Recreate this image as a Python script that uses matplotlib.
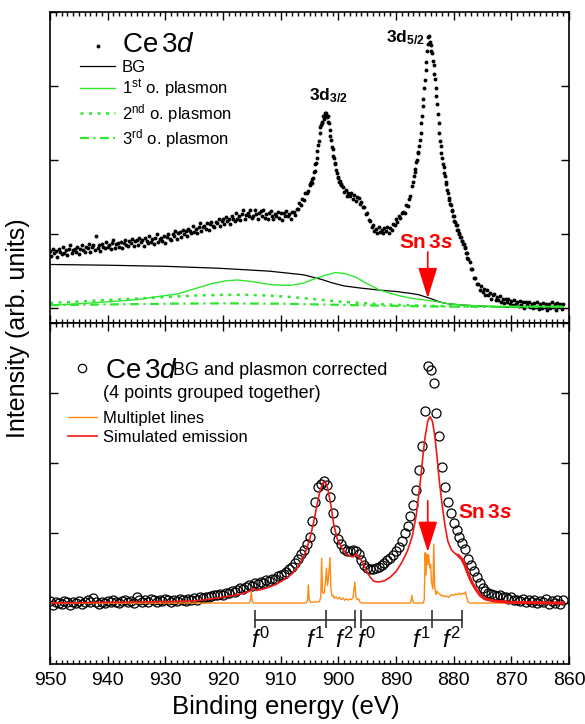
import numpy as np
import matplotlib
matplotlib.use('Agg')
import matplotlib.pyplot as plt
from matplotlib.lines import Line2D
from matplotlib.ticker import MultipleLocator, NullLocator
from matplotlib.transforms import offset_copy

plt.rcParams['font.family'] = ['Liberation Sans', 'DejaVu Sans']
plt.rcParams['mathtext.fontset'] = 'custom'
plt.rcParams['mathtext.rm'] = 'Liberation Sans'
plt.rcParams['mathtext.it'] = 'Liberation Sans:italic'
plt.rcParams['mathtext.bf'] = 'Liberation Sans:bold'
plt.rcParams['mathtext.bfit'] = 'Liberation Sans:bold:italic'

# ---- top panel: raw Ce 3d spectrum, in segments ----
# 950 -> 905.25 eV, 0.25 eV step
ce3d_a = [0.77, 0.70, 0.80, 0.74, 0.77, 0.69, 0.80, 0.76, 0.73, 0.82,
          0.75, 0.78, 0.72, 0.80, 0.85, 0.74, 0.78, 0.80, 0.76, 0.83,
          0.73, 0.80, 0.85, 0.78, 0.76, 0.83, 0.81, 0.87, 0.76, 0.83,
          0.85, 0.78, 0.97, 0.81, 0.85, 0.77, 0.87, 0.83, 0.81, 0.90,
          0.82, 0.85, 0.80, 0.88, 0.92, 0.81, 0.86, 0.88, 0.83, 0.90,
          0.81, 0.88, 0.92, 0.85, 0.84, 0.91, 0.88, 0.94, 0.84, 0.91,
          0.92, 0.85, 0.95, 0.89, 0.92, 0.84, 0.95, 0.91, 0.88, 0.97,
          0.90, 0.93, 0.87, 0.95, 1.00, 0.89, 0.93, 0.95, 0.91, 0.98,
          0.88,
          0.96, 1.00, 0.94, 0.92, 1.00, 0.97, 1.04, 0.94, 1.01, 1.03,
          0.96, 1.06, 1.00, 1.04, 0.97, 1.07, 1.04, 1.01, 1.11, 1.03,
          1.07, 1.02, 1.10, 1.15, 1.04, 1.09, 1.11, 1.07, 1.15, 1.05,
          1.13, 1.17, 1.11, 1.09, 1.17, 1.15, 1.21, 1.11, 1.18, 1.20,
          1.13, 1.23, 1.18, 1.21, 1.14, 1.24, 1.21, 1.18, 1.28, 1.21,
          1.24, 1.19, 1.27, 1.32, 1.21, 1.26, 1.29, 1.24, 1.32, 1.22,
          1.24, 1.32, 1.27, 1.21, 1.29, 1.31, 1.25, 1.33, 1.22, 1.27,
          1.20, 1.28, 1.31, 1.24, 1.21, 1.27, 1.25, 1.30, 1.22, 1.29,
          1.19, 1.28, 1.24, 1.31, 1.24, 1.27, 1.21, 1.30,
          1.30, 1.26, 1.34, 1.34, 1.42, 1.39, 1.48, 1.46, 1.55, 1.56, 1.58]
# 905.0 -> 899.5 eV, 0.125 eV step
ce3d_b = [1.68, 1.66, 1.71, 1.69, 1.75, 1.76, 1.84, 1.85, 1.94, 1.96,
          2.03, 2.12, 2.20, 2.26, 2.36, 2.44, 2.47, 2.52, 2.50, 2.59,
          2.56, 2.63, 2.60, 2.64, 2.58, 2.59, 2.52, 2.50, 2.41, 2.33,
          2.27, 2.18, 2.15, 2.06, 2.03, 1.96, 1.94, 1.86, 1.83, 1.77,
          1.76, 1.71, 1.72, 1.66, 1.67]
# 899.25 -> 887.0 eV, 0.25 eV step
ce3d_c = [1.64, 1.57, 1.59, 1.52, 1.56, 1.52, 1.56, 1.48, 1.53, 1.45,
          1.50, 1.49, 1.41, 1.44, 1.36, 1.37, 1.27, 1.29, 1.19, 1.18,
          1.10, 1.12, 1.04, 1.07, 1.02, 1.09, 1.03, 1.06, 1.01, 1.08,
          1.04, 1.09, 1.02, 1.08, 1.06, 1.14, 1.12, 1.20, 1.17, 1.24,
          1.22, 1.29, 1.30, 1.29, 1.39, 1.38, 1.47, 1.51, 1.65, 1.70]
# 886.875 -> 877.5 eV, 0.125 eV step
ce3d_d = [1.79, 1.84, 1.88, 1.97, 2.00, 2.09, 2.11, 2.19,
          2.27, 2.36, 2.50, 2.59, 2.73, 2.83, 2.97, 3.08,
          3.22, 3.32, 3.47, 3.57, 3.66, 3.68, 3.60, 3.55,
          3.47, 3.45, 3.34, 3.28, 3.16, 3.09, 2.97, 2.87,
          2.76, 2.62, 2.50, 2.37, 2.26, 2.19, 2.09, 2.03,
          1.95, 1.91, 1.82, 1.78, 1.70, 1.67, 1.59, 1.56,
          1.49, 1.46, 1.40, 1.39, 1.33, 1.31, 1.25, 1.24,
          1.18, 1.17, 1.12, 1.12, 1.06, 1.06, 1.01, 1.00,
          0.96, 0.96, 0.91, 0.91, 0.86, 0.87, 0.82, 0.81,
          0.75, 0.74, 0.68, 0.66]
# 877.25 -> 861.0 eV, 0.25 eV step
ce3d_e = [0.63, 0.53, 0.53, 0.41, 0.41, 0.32,
          0.33, 0.25, 0.30, 0.22, 0.26, 0.18, 0.24, 0.18, 0.21, 0.13,
          0.18, 0.19, 0.11, 0.15, 0.11, 0.16, 0.09, 0.13, 0.07, 0.13,
          0.08, 0.13, 0.06, 0.10, 0.04, 0.11, 0.05, 0.08, 0.03, 0.10,
          0.04, 0.08, 0.00, 0.08, 0.04, 0.09, 0.02, 0.06, 0.00, 0.07,
          0.02, 0.08, -0.01, 0.06, 0.00, 0.07, 0.02, 0.06, -0.02, 0.05,
          0.00, 0.08, 0.01, 0.06, -0.02, 0.07, 0.02, 0.06, -0.01, 0.05]
ce3d_segments = [(950.0, 905.25, ce3d_a), (905.0, 899.5, ce3d_b),
                 (899.25, 887.0, ce3d_c), (886.875, 877.5, ce3d_d),
                 (877.25, 861.0, ce3d_e)]

bg_e = [950, 940, 930, 921, 912, 906, 903, 901, 899, 896, 893, 890, 887.5,
        886, 885, 884, 883, 882, 881, 879, 876, 870, 861]
bg_i = [0.59, 0.58, 0.565, 0.54, 0.50, 0.45, 0.39, 0.34, 0.30, 0.27, 0.245,
        0.225, 0.20, 0.18, 0.155, 0.13, 0.10, 0.075, 0.06, 0.045, 0.03, 0.01, 0.0]
pl1_e = [950, 945, 940, 935, 931, 928, 925, 922, 919.5, 917.5, 915, 912, 910,
         908, 906, 904, 902, 900.5, 899, 897, 895, 893, 891, 889, 887, 885,
         883, 881, 878, 872, 861]
pl1_i = [0.04, 0.06, 0.085, 0.115, 0.16, 0.19, 0.26, 0.33, 0.37, 0.38, 0.36,
         0.32, 0.31, 0.31, 0.34, 0.40, 0.45, 0.48, 0.47, 0.42, 0.33, 0.25,
         0.20, 0.16, 0.13, 0.11, 0.09, 0.06, 0.04, 0.02, 0.02]
pl2_e = [950, 945, 940, 935, 930, 925, 920, 916, 912, 908, 904, 900, 896,
         892, 888, 884, 875, 861]
pl2_i = [0.07, 0.09, 0.11, 0.13, 0.15, 0.17, 0.18, 0.18, 0.17, 0.15, 0.12,
         0.09, 0.07, 0.05, 0.04, 0.03, 0.02, 0.02]
pl3_e = [950, 940, 930, 920, 910, 900, 890, 880, 861]
pl3_i = [0.04, 0.05, 0.06, 0.065, 0.06, 0.045, 0.03, 0.02, 0.02]

# ---- bottom panel: corrected spectrum, 950 -> 861 eV, 0.5 eV step ----
corr_i = [0.03, -0.03, 0.02, 0.00, -0.02, 0.03, 0.01, -0.03, 0.02, 0.00,
          0.03, -0.01, 0.02, 0.04, 0.01, 0.07, 0.02, -0.01, 0.02, 0.00,
          0.03, 0.01, 0.04, 0.02, 0.00, 0.03, 0.05, 0.01, 0.03, 0.00,
          0.09, 0.04, 0.01, 0.05, 0.02, 0.06, 0.04, 0.02, 0.05, 0.03,
          0.06, 0.04, 0.02, 0.05, 0.03, 0.06, 0.04, 0.03, 0.06, 0.04,
          0.07,
          0.05, 0.08, 0.07, 0.09, 0.08, 0.10, 0.12, 0.11, 0.13, 0.12,
          0.15, 0.14, 0.17, 0.16, 0.19, 0.21, 0.20, 0.23, 0.26, 0.25,
          0.28, 0.27, 0.30, 0.29, 0.33, 0.31, 0.35, 0.34, 0.38, 0.40,
          0.42, 0.45, 0.48, 0.52, 0.57, 0.63, 0.70, 0.76, 0.84, 0.95,
          1.17, 1.45, 1.66, 1.70, 1.74, 1.68, 1.52, 1.29, 1.05, 0.92,
          0.84, 0.77, 0.74, 0.75, 0.76, 0.74, 0.70, 0.62, 0.55, 0.50,
          0.48, 0.49, 0.50, 0.52, 0.54, 0.57, 0.61, 0.64, 0.69, 0.75,
          0.80, 0.88, 1.00, 1.10, 1.24, 1.40, 1.62, 1.90, 2.25, 2.75,
          3.39, 3.33, 3.14, 2.72, 2.38, 1.95, 1.66, 1.45, 1.28, 1.15,
          1.05, 0.95, 0.86, 0.77, 0.63, 0.55, 0.46, 0.37, 0.28, 0.22,
          0.17, 0.15, 0.13, 0.12, 0.10, 0.11, 0.08, 0.09, 0.06, 0.08,
          0.04, 0.05, 0.03, 0.06, 0.01, 0.04, 0.02, 0.05, 0.00, 0.03,
          0.01, 0.06, -0.02, 0.03, 0.00, 0.05, -0.01, 0.04]

sim_e = [950, 940, 930, 925, 921, 918, 916, 915.2, 914.7, 914.2, 913, 911,
         909.5, 908, 907, 906, 905, 904.3, 903.7, 903.2, 902.6, 902.2, 901.8,
         901.3, 900.8, 900.2, 899.5, 898.7, 898, 897.4, 896.9, 896.4, 895.6,
         895, 894.4, 893.8, 893, 892, 891, 890, 889, 888, 887.2, 886.5, 885.9,
         885.4, 885.0, 884.5, 884.1, 883.7, 883.3, 882.9, 882.5, 882.0, 881.5,
         881.0, 880.4, 879.8, 879.2, 878.6, 878.1, 877.6, 877.0, 876.4, 876.0,
         875.4, 874.6, 873, 870, 861]
sim_i = [0.00, 0.01, 0.02, 0.03, 0.07, 0.11, 0.15, 0.18, 0.21, 0.18, 0.20,
         0.26, 0.33, 0.42, 0.52, 0.66, 0.90, 1.15, 1.40, 1.60, 1.73, 1.72,
         1.62, 1.40, 1.12, 0.92, 0.80, 0.71, 0.67, 0.66, 0.70, 0.66, 0.55,
         0.44, 0.36, 0.31, 0.30, 0.32, 0.37, 0.45, 0.58, 0.75, 0.95, 1.25,
         1.65, 2.05, 2.35, 2.60, 2.66, 2.60, 2.40, 2.10, 1.75, 1.40, 1.10,
         0.88, 0.76, 0.71, 0.68, 0.63, 0.55, 0.44, 0.32, 0.23, 0.18, 0.11,
         0.06, 0.03, 0.01, 0.00]

mult_e = [950, 915.5, 915.25, 915.1, 914.95, 914.7, 905.6, 905.35, 905.2,
          905.05, 904.8, 903.3, 903.05, 902.9, 902.75, 902.45, 902.25, 902.05,
          901.9, 901.75, 901.45, 901.3, 901.1, 900.9, 900.7, 900.4, 900.1,
          899.8, 899.5, 899.2, 898.9, 898.6, 898.3, 898.0, 897.7, 897.45,
          897.15, 896.95, 896.7, 896.5, 896.2, 895.9, 887.6, 887.4, 887.25,
          887.1, 886.9, 885.3, 885.1, 884.95, 884.8, 884.65, 884.5, 884.35,
          884.15, 884.0, 883.85, 883.6, 883.45, 883.3, 883.1, 882.9, 882.7,
          882.4, 882.1, 881.8, 881.5, 881.2, 880.9, 880.6, 880.3, 880.0,
          879.7, 879.4, 879.1, 878.8, 878.5, 878.2, 877.95, 877.8, 877.6,
          877.3, 861]
mult_i = [0.0, 0.0, 0.03, 0.17, 0.03, 0.0, 0.0, 0.04, 0.26, 0.04, 0.01,
          0.02, 0.08, 0.64, 0.15, 0.14, 0.30, 0.50, 0.25, 0.32, 0.65, 0.20,
          0.10, 0.11, 0.07, 0.09, 0.06, 0.08, 0.05, 0.07, 0.04, 0.06, 0.04,
          0.06, 0.05, 0.08, 0.30, 0.08, 0.05, 0.06, 0.01, 0.0, 0.0, 0.03,
          0.11, 0.03, 0.0, 0.0, 0.05, 0.72, 0.40, 0.70, 0.55, 0.69, 0.50,
          0.55, 0.30, 0.20, 0.84, 0.25, 0.12, 0.17, 0.14, 0.13, 0.10, 0.11,
          0.09, 0.10, 0.08, 0.11, 0.12, 0.11, 0.13, 0.12, 0.14, 0.12, 0.14,
          0.13, 0.16, 0.10, 0.03, 0.0, 0.0]

# multiplet brackets (f0, f1, f2) for 3d3/2 and 3d5/2
f_pos_32 = [914.5, 902.2, 897.1]
f_pos_52 = [896.1, 883.8, 878.6]
f_labels = ['0', '1', '2']
sn3s_e = 884.5

green = '#2ee82e'

fig = plt.figure(figsize=(5.85, 7.24), dpi=100)
ax1 = fig.add_axes([0.0855, 0.5539, 0.8872, 0.4296])
ax2 = fig.add_axes([0.0855, 0.0829, 0.8872, 0.4710])

# top panel
for e0, e1, vals in ce3d_segments:
    ax1.plot(np.linspace(e0, e1, len(vals)), vals, ls='none', marker='o',
             ms=2.8, mew=0, color='k')
ax1.plot(bg_e, bg_i, color='k', lw=0.9)
ax1.plot(pl1_e, pl1_i, color=green, lw=1.0)
ax1.plot(pl2_e, pl2_i, color=green, lw=1.8, ls=(0, (1.2, 2.2)))
ax1.plot(pl3_e, pl3_i, color=green, lw=1.6, ls=(0, (4, 2, 1, 2)))

h_dots = Line2D([], [], ls='none', marker='o', ms=2.8, mew=0, color='k')
h_bg = Line2D([], [], color='k', lw=0.9)
h_p1 = Line2D([], [], color=green, lw=1.0)
h_p2 = Line2D([], [], color=green, lw=1.8, ls=(0, (1.2, 2.2)))
h_p3 = Line2D([], [], color=green, lw=1.6, ls=(0, (4, 2, 1, 2)))
leg1 = ax1.legend([h_dots, h_bg, h_p1, h_p2, h_p3],
                  [r'$\mathrm{Ce\,3}\mathit{d}$', 'BG',
                   r'1$^{\mathrm{st}}$ o. plasmon',
                   r'2$^{\mathrm{nd}}$ o. plasmon',
                   r'3$^{\mathrm{rd}}$ o. plasmon'],
                  loc='upper left', bbox_to_anchor=(0.058, 0.935),
                  frameon=False, fontsize=12, handlelength=2.1,
                  handletextpad=0.4, labelspacing=0.12, borderpad=0,
                  borderaxespad=0, numpoints=1)
leg1.get_texts()[0].set_fontsize(20)

ax1.text(905.1, 2.81, r'$\mathbf{3d_{3/2}}$', fontsize=12.5, va='baseline')
ax1.text(891.7, 3.59, r'$\mathbf{3d_{5/2}}$', fontsize=12.5, va='baseline')
ax1.text(884.8, 0.89, r'$\mathbf{Sn\,3}\mathbfit{s}$', color='red',
         fontsize=15, ha='center', va='center')
ax1.annotate('', xy=(sn3s_e, 0.135), xytext=(sn3s_e, 0.76),
             arrowprops=dict(arrowstyle='-|>,head_length=1.6,head_width=0.5',
                             color='red', lw=1.2, shrinkA=0, shrinkB=0,
                             mutation_scale=12))
ax1.set_ylim(-0.2, 4.0)

# bottom panel
ax2.plot(np.linspace(950, 861, len(corr_i)), corr_i, ls='none', marker='o',
         ms=6.5, mfc='none', mec='k', mew=0.9)
ax2.plot(mult_e, mult_i, color='#ff8a14', lw=1.0)
ax2.plot(sim_e, sim_i, color='#f01818', lw=1.2)
sim_e_arr = np.array(sim_e)
tail = sim_e_arr <= 879.5
ax2.plot(sim_e_arr[tail], np.array(sim_i)[tail], color='#f01818', lw=2.2)

h_circ = Line2D([], [], ls='none', marker='o', ms=6, mfc='none', mec='k',
                mew=0.9)
legA = ax2.legend([h_circ], [r'$\mathrm{Ce\,3}\mathit{d}$'], loc='upper left',
                  bbox_to_anchor=(0.041, 0.898), frameon=False, fontsize=20,
                  handlelength=0.8, handletextpad=0.4, borderpad=0,
                  borderaxespad=0, numpoints=1)
ax2.add_artist(legA)
h_mult = Line2D([], [], color='#ff8a14', lw=1.0)
h_sim = Line2D([], [], color='#f01818', lw=1.2)
ax2.legend([h_mult, h_sim], ['Multiplet lines', 'Simulated emission'],
           loc='upper left', bbox_to_anchor=(0.035, 0.742), frameon=False,
           fontsize=12, handlelength=1.7, handletextpad=0.36,
           labelspacing=0.22, borderpad=0, borderaxespad=0)
ax2.text(928.7, 3.257, 'BG and plasmon corrected', fontsize=13, va='baseline')
ax2.text(940.8, 2.93, '(4 points grouped together)', fontsize=13,
         va='baseline')

ax2.text(874.6, 1.29, r'$\mathbf{Sn\,3}\mathbfit{s}$', color='red',
         fontsize=15, ha='center', va='center')
ax2.annotate('', xy=(sn3s_e, 0.73), xytext=(sn3s_e, 1.46),
             arrowprops=dict(arrowstyle='-|>,head_length=1.6,head_width=0.5',
                             color='red', lw=1.2, shrinkA=0, shrinkB=0,
                             mutation_scale=12))

# f0 label starts just left of its tick, f1/f2 labels end at their tick
f_align = [('left', -4), ('right', -1), ('right', -1)]
for pos in (f_pos_32, f_pos_52):
    ax2.plot([pos[0], pos[-1]], [-0.24, -0.24], color='#333333', lw=1.2)
    ax2.vlines(pos, -0.10, -0.36, color='#333333', lw=1.2)
    for x, lab, (ha, dx) in zip(pos, f_labels, f_align):
        tr = offset_copy(ax2.transData, fig=fig, x=dx, y=0, units='dots')
        ax2.text(x, -0.35, r'$\mathit{f}^{%s}$' % lab, fontsize=17,
                 ha=ha, va='top', transform=tr)
ax2.set_ylim(-0.87, 4.0)

for ax in (ax1, ax2):
    ax.set_xlim(950, 860)
    ax.xaxis.set_major_locator(MultipleLocator(10))
    ax.xaxis.set_minor_locator(MultipleLocator(1))
    ax.yaxis.set_major_locator(MultipleLocator(1))
    ax.yaxis.set_minor_locator(NullLocator())
    ax.tick_params(which='both', direction='in', top=True, right=True,
                   width=1.0, labelleft=False)
    ax.tick_params(which='major', length=6)
    ax.tick_params(which='minor', length=3)
    for sp in ax.spines.values():
        sp.set_linewidth(1.2)
ax1.tick_params(labelbottom=False)
ax2.tick_params(axis='x', labelsize=14, pad=6)

fig.text(0.489, 0.024, 'Binding energy (eV)', fontsize=18.5, ha='center',
         va='center')
fig.text(0.031, 0.547, 'Intensity (arb. units)', fontsize=18, rotation=90,
         ha='center', va='center')

fig.savefig('out.png', dpi=100)
